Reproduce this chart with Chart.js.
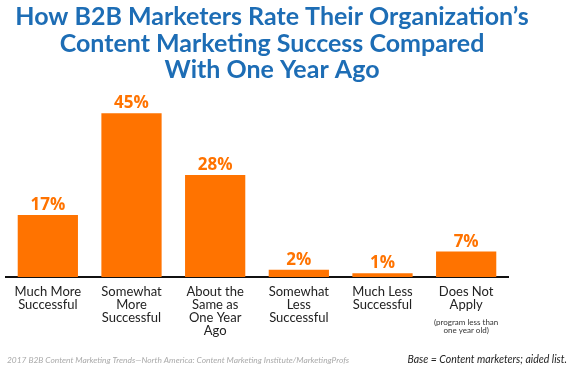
<!DOCTYPE html>
<html>
<head>
<meta charset="utf-8">
<script src="https://cdn.jsdelivr.net/npm/chart.js@4"></script>
<style>
  html, body { margin: 0; padding: 0; background: #fff; }
  #wrap { width: 570px; height: 373px; position: relative; }
</style>
</head>
<body>
<div id="wrap"><canvas id="chart"></canvas></div>
<script>
// chart data
const categories = [
  ["Much More", "Successful"],
  ["Somewhat", "More", "Successful"],
  ["About the", "Same as", "One Year", "Ago"],
  ["Somewhat", "Less", "Successful"],
  ["Much Less", "Successful"],
  ["Does Not", "Apply"]
];
const values = [17, 45, 28, 2, 1, 7];
const valueLabels = ["17%", "45%", "28%", "2%", "1%", "7%"];
const titleLines = [
  "How B2B Marketers Rate Their Organization\u2019s",
  "Content Marketing Success Compared",
  "With One Year Ago"
];
const noteLines = ["(program less than", "one year old)"];
const sourceText = "2017 B2B Content Marketing Trends\u2014North America: Content Marketing Institute/MarketingProfs";
const baseText = "Base = Content marketers; aided list.";

const ORANGE = "#ff7300";
const BLUE = "#1d6db5";

// draws title, value labels, note and footer
const textPlugin = {
  id: "texts",
  afterDraw(chart) {
    const ctx = chart.ctx;
    ctx.save();

    ctx.fillStyle = BLUE;
    ctx.font = "bold 25px Lato";
    ctx.textAlign = "center";
    ctx.textBaseline = "middle";
    titleLines.forEach((t, i) => ctx.fillText(t, 272, 17 + i * 26.5));

    const meta = chart.getDatasetMeta(0);
    ctx.fillStyle = ORANGE;
    ctx.font = "bold 17px 'Open Sans'";
    ctx.textBaseline = "alphabetic";
    meta.data.forEach((bar, i) => {
      ctx.fillText(valueLabels[i], bar.x, bar.y - 5);
    });

    const x = chart.scales.x;
    ctx.fillStyle = "#333";
    ctx.font = "8px Lato";
    ctx.textBaseline = "middle";
    noteLines.forEach((t, i) => ctx.fillText(t, x.getPixelForValue(5), 322 + i * 8.5));

    ctx.font = "italic 8.4px Lato";
    ctx.fillStyle = "#aaa";
    ctx.textAlign = "left";
    ctx.fillText(sourceText, 7, 360);

    ctx.font = "italic 10.5px Lato";
    ctx.fillStyle = "#222";
    ctx.textAlign = "right";
    ctx.fillText(baseText, 567, 360);

    ctx.restore();
  }
};

new Chart(document.getElementById("chart"), {
  type: "bar",
  data: {
    labels: categories,
    datasets: [{
      data: values,
      backgroundColor: ORANGE,
      categoryPercentage: 1,
      barPercentage: 0.72
    }]
  },
  options: {
    responsive: true,
    maintainAspectRatio: false,
    animation: false,
    events: [],
    layout: { padding: { left: 6, right: 62, top: 95, bottom: 0 } },
    plugins: {
      legend: { display: false },
      tooltip: { enabled: false }
    },
    scales: {
      x: {
        grid: { display: false, drawTicks: false },
        border: { color: "#111", width: 2 },
        afterFit(scale) { scale.height = 96; },
        ticks: {
          color: "#222",
          font: { family: "Lato", size: 13, lineHeight: 1.0 },
          padding: 8,
          autoSkip: false,
          maxRotation: 0
        }
      },
      y: {
        display: false,
        min: 0,
        max: 50
      }
    }
  },
  plugins: [textPlugin]
});
</script>
</body>
</html>
